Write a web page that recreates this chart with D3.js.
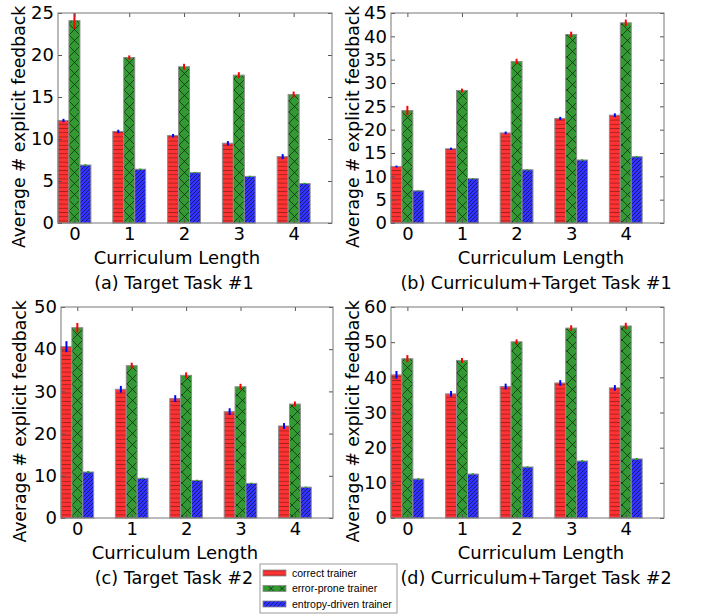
<!DOCTYPE html>
<html>
<head>
<meta charset="utf-8">
<script src="https://cdn.jsdelivr.net/npm/d3@7"></script>
<style>
  body { margin: 0; background: #fff; }
  text { font-family: "DejaVu Sans", sans-serif; fill: #000; }
  .legend text { font-family: "Liberation Sans", Arial, sans-serif; }
</style>
</head>
<body>
<svg id="chart" width="704" height="614"></svg>
<script>
const categories = [0, 1, 2, 3, 4];
const trainers = ["correct trainer", "error-prone trainer", "entropy-driven trainer"];

// (a) Target Task #1
const correctA = [12.2, 10.9, 10.4, 9.5, 7.9];
const errorProneA = [24.1, 19.7, 18.6, 17.6, 15.3];
const entropyA = [6.9, 6.4, 6.0, 5.55, 4.7];
const correctErrA = [0.2, 0.2, 0.2, 0.25, 0.3];
const errorProneErrA = [1.0, 0.25, 0.35, 0.35, 0.35];
const entropyErrA = [0.1, 0.08, 0.08, 0.08, 0.08];

// (b) Curriculum+Target Task #1
const correctB = [12.1, 15.9, 19.3, 22.4, 23.1];
const errorProneB = [24.1, 28.4, 34.6, 40.4, 42.9];
const entropyB = [6.9, 9.5, 11.4, 13.5, 14.2];
const correctErrB = [0.2, 0.25, 0.3, 0.35, 0.4];
const errorProneErrB = [1.0, 0.4, 0.6, 0.6, 0.7];
const entropyErrB = [0.1, 0.1, 0.15, 0.15, 0.15];

// (c) Target Task #2
const correctC = [40.6, 30.5, 28.3, 25.2, 21.8];
const errorProneC = [45.1, 36.1, 33.8, 31.1, 27.0];
const entropyC = [10.9, 9.4, 8.9, 8.2, 7.3];
const correctErrC = [1.3, 0.8, 0.8, 0.8, 0.7];
const errorProneErrC = [1.1, 0.7, 0.7, 0.7, 0.6];
const entropyErrC = [0.25, 0.15, 0.15, 0.15, 0.15];

// (d) Curriculum+Target Task #2
const correctD = [40.7, 35.3, 37.4, 38.4, 37.0];
const errorProneD = [45.3, 44.8, 50.1, 54.0, 54.6];
const entropyD = [11.1, 12.5, 14.5, 16.2, 16.8];
const correctErrD = [1.1, 0.8, 0.8, 0.8, 0.8];
const errorProneErrD = [1.0, 0.7, 0.7, 0.8, 0.9];
const entropyErrD = [0.2, 0.2, 0.2, 0.25, 0.25];

const yTicksA = [0, 5, 10, 15, 20, 25];
const yTicksB = [0, 5, 10, 15, 20, 25, 30, 35, 40, 45];
const yTicksC = [0, 10, 20, 30, 40, 50];
const yTicksD = [0, 10, 20, 30, 40, 50, 60];

const captions = ["(a) Target Task #1", "(b) Curriculum+Target Task #1",
                  "(c) Target Task #2", "(d) Curriculum+Target Task #2"];

const fills = ["url(#hatchRed)", "url(#hatchGreen)", "url(#hatchBlue)"];
const errColors = ["#0000ff", "#ff0000", "#00b000"];

const svg = d3.select("#chart");
const defs = svg.append("defs");

// hatch patterns, roughly like matplotlib '-', 'x', '///'
const pRed = defs.append("pattern").attr("id", "hatchRed")
    .attr("patternUnits", "userSpaceOnUse").attr("width", 10).attr("height", 4.2);
pRed.append("rect").attr("width", 10).attr("height", 4.2).attr("fill", "#ff3333");
pRed.append("path").attr("d", "M0,2.1H10").attr("stroke", "#000")
    .attr("stroke-opacity", 0.35).attr("stroke-width", 0.9);

const pGreen = defs.append("pattern").attr("id", "hatchGreen")
    .attr("patternUnits", "userSpaceOnUse").attr("width", 11).attr("height", 11);
pGreen.append("rect").attr("width", 11).attr("height", 11).attr("fill", "#339933");
pGreen.append("path").attr("d", "M0,0L11,11M11,0L0,11").attr("stroke", "#000")
    .attr("stroke-opacity", 0.6).attr("stroke-width", 0.9);

const pBlue = defs.append("pattern").attr("id", "hatchBlue")
    .attr("patternUnits", "userSpaceOnUse").attr("width", 4).attr("height", 4);
pBlue.append("rect").attr("width", 4).attr("height", 4).attr("fill", "#3333ff");
pBlue.append("path").attr("d", "M0,4L4,0M-1,1L1,-1M3,5L5,3").attr("stroke", "#000")
    .attr("stroke-opacity", 0.6).attr("stroke-width", 0.9);

const drawPanel = function (opts) {
    const innerWidth = opts.right - opts.left;
    const innerHeight = opts.bottom - opts.top;
    const g = svg.append("g")
        .attr("transform", "translate(" + opts.left + "," + opts.top + ")");

    const x = d3.scaleLinear().domain([0, 5]).range([0, innerWidth]);
    const y = d3.scaleLinear().domain([0, opts.yTicks[opts.yTicks.length - 1]]).range([innerHeight, 0]);
    const barW = 0.2;
    const ymax = y.domain()[1];

    opts.series.forEach(function (vals, k) {
        g.selectAll(".bar" + k)
            .data(vals)
            .enter()
            .append("rect")
            .attr("x", (d, i) => x(categories[i] + k * barW))
            .attr("y", d => y(d))
            .attr("width", x(barW) - x(0))
            .attr("height", d => innerHeight - y(d))
            .attr("fill", fills[k])
            .attr("stroke", "#8c8c8c")
            .attr("stroke-width", 1);

        g.selectAll(".err" + k)
            .data(vals)
            .enter()
            .append("line")
            .attr("x1", (d, i) => x(categories[i] + k * barW + barW / 2))
            .attr("x2", (d, i) => x(categories[i] + k * barW + barW / 2))
            .attr("y1", (d, i) => y(Math.min(d + opts.errs[k][i], ymax)))
            .attr("y2", (d, i) => y(d - opts.errs[k][i]))
            .attr("stroke", errColors[k])
            .attr("stroke-width", 2);
    });

    const tickVals = categories.map(c => c + 0.3);

    const yAxis = g.append("g")
        .call(d3.axisLeft(y).tickValues(opts.yTicks).tickSize(-4).tickPadding(4));
    g.append("g").attr("transform", "translate(" + innerWidth + ",0)")
        .call(d3.axisRight(y).tickValues(opts.yTicks).tickSize(-4).tickFormat(""));
    const xAxis = g.append("g").attr("transform", "translate(0," + innerHeight + ")")
        .call(d3.axisBottom(x).tickValues(tickVals).tickSize(-4).tickPadding(4)
            .tickFormat((d, i) => categories[i]));
    g.append("g")
        .call(d3.axisTop(x).tickValues(tickVals).tickSize(-4).tickFormat(""));

    g.selectAll(".domain").remove();
    g.selectAll(".tick line").attr("stroke", "#555");
    yAxis.selectAll("text").style("font-size", "18px");
    xAxis.selectAll("text").style("font-size", "18px");

    g.append("rect")
        .attr("width", innerWidth)
        .attr("height", innerHeight)
        .attr("fill", "none")
        .attr("stroke", "#777")
        .attr("stroke-width", 1);

    svg.append("text")
        .attr("transform", "translate(" + opts.ylabelX + "," + (opts.top + innerHeight / 2 + 9) + ") rotate(-90)")
        .attr("text-anchor", "middle")
        .attr("dy", "0.35em")
        .style("font-size", "17.2px")
        .text("Average # explicit feedback");

    svg.append("text")
        .attr("x", opts.xlabelX)
        .attr("y", opts.bottom + 41)
        .attr("text-anchor", "middle")
        .style("font-size", "18px")
        .text("Curriculum Length");

    svg.append("text")
        .attr("x", opts.captionX)
        .attr("y", opts.bottom + 66)
        .attr("text-anchor", "middle")
        .style("font-size", "17.6px")
        .text(opts.caption);
};

drawPanel({left: 58, right: 332, top: 13, bottom: 223, yTicks: yTicksA,
    series: [correctA, errorProneA, entropyA], errs: [correctErrA, errorProneErrA, entropyErrA],
    ylabelX: 19, xlabelX: 177, captionX: 174, caption: captions[0]});
drawPanel({left: 391, right: 664, top: 13, bottom: 223, yTicks: yTicksB,
    series: [correctB, errorProneB, entropyB], errs: [correctErrB, errorProneErrB, entropyErrB],
    ylabelX: 353, xlabelX: 541, captionX: 536, caption: captions[1]});
drawPanel({left: 61, right: 333, top: 307, bottom: 518, yTicks: yTicksC,
    series: [correctC, errorProneC, entropyC], errs: [correctErrC, errorProneErrC, entropyErrC],
    ylabelX: 20, xlabelX: 175, captionX: 174, caption: captions[2]});
drawPanel({left: 391, right: 664, top: 307, bottom: 518, yTicks: yTicksD,
    series: [correctD, errorProneD, entropyD], errs: [correctErrD, errorProneErrD, entropyErrD],
    ylabelX: 353, xlabelX: 541, captionX: 536, caption: captions[3]});

// legend
const legend = svg.append("g").attr("class", "legend").attr("transform", "translate(260,564)");
legend.append("rect")
    .attr("width", 137).attr("height", 49)
    .attr("fill", "#fff").attr("stroke", "#999").attr("stroke-width", 1);
trainers.forEach(function (name, k) {
    const row = legend.append("g").attr("transform", "translate(0," + (9 + k * 15.5) + ")");
    row.append("rect")
        .attr("x", 3).attr("y", -3).attr("width", 23).attr("height", 6)
        .attr("fill", fills[k]).attr("stroke", "#8c8c8c").attr("stroke-width", 0.8);
    row.append("text")
        .attr("x", 32).attr("dy", "0.35em")
        .style("font-size", "10.5px")
        .text(name);
});
</script>
</body>
</html>
